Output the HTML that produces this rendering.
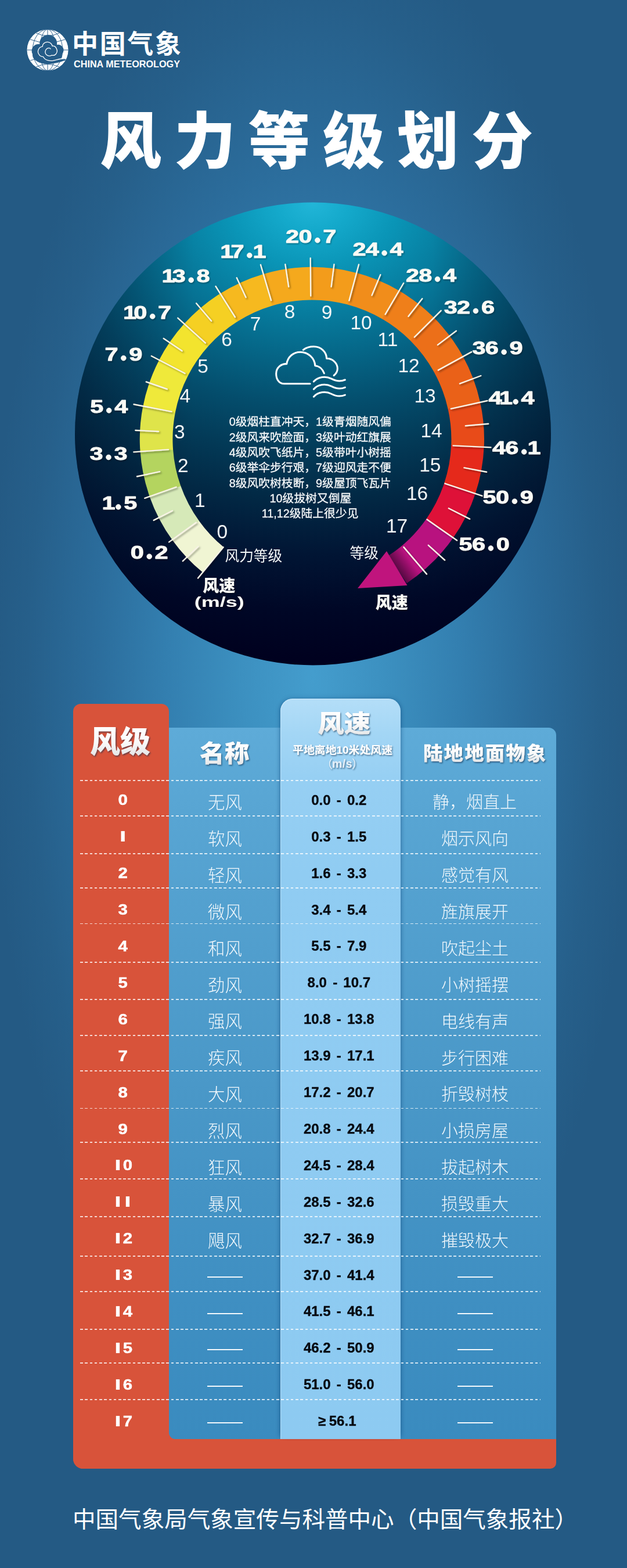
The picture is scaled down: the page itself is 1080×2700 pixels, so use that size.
<!DOCTYPE html>
<html lang="zh-CN">
<head>
<meta charset="utf-8">
<title>风力等级划分</title>
<style>
html,body{margin:0;padding:0;}
body{width:1080px;height:2700px;overflow:hidden;background:#245a84;font-family:"Liberation Sans","Noto Sans CJK SC",sans-serif;}
#page{position:relative;width:1080px;height:2700px;overflow:hidden;
 background:radial-gradient(ellipse 560px 1320px at 540px 1165px,#449dcd 0%,#3c90c0 22%,#337fb0 45%,#2b6c9b 68%,#265f8a 88%,#245a84 100%);}
svg{display:block}
svg text{font-family:"Liberation Sans","Noto Sans CJK SC",sans-serif;}
.abs{position:absolute}
#tbl{position:absolute;left:0;top:0;width:1080px;height:2700px}
#tbl .cj{position:absolute;overflow:visible}
.redcol{position:absolute;left:126px;top:1212px;width:165px;height:1317px;background:#d8533a;border-radius:13px 13px 0 17px}
.redbase{position:absolute;left:126px;top:2460px;width:832px;height:69px;background:#d8533a;border-radius:0 0 10px 17px}
.panel{position:absolute;left:291px;top:1253px;width:667px;height:1225px;border-radius:0 13px 0 11px;
 background:linear-gradient(to bottom,#5eabd8 0%,#58a5d3 12%,#4a98c8 50%,#3f8fc2 80%,#3a8bbf 100%)}
.spd{position:absolute;left:483.3px;top:1203px;width:207px;height:1275px;border-radius:21px 21px 0 0;
 background:linear-gradient(to bottom,#b4def8 0,#a3d6f5 60px,#96cff3 140px,#90ccf2 300px,#8dcaf1 100%);
 box-shadow:6px 0 7px -5px rgba(10,60,110,.38),-6px 0 7px -5px rgba(10,60,110,.38),0 -3px 8px -3px rgba(10,60,110,.3), inset 1px 1px 0 rgba(255,255,255,.35)}
.ln{position:absolute;left:138px;width:793px;height:1.9px;background:repeating-linear-gradient(to right,rgba(255,255,255,.76) 0,rgba(255,255,255,.76) 4.5px,transparent 4.5px,transparent 8.25px)}
.sp{position:absolute;left:483.8px;width:200px;height:40px;line-height:40px;text-align:center;color:#060910;font-weight:bold;font-size:24px;word-spacing:3.5px;-webkit-text-stroke:.35px #060910;white-space:nowrap}
.ge{margin-right:5.5px;margin-left:-6px}
.dash{position:absolute;width:61px;height:2px;background:#f2f8fc}

</style>
</head>
<body>
<div id="page">
<svg role="img" style="position:absolute;left:0px;top:0px;overflow:visible" width="360" height="150" viewBox="0 0 360 150"><title>中国气象 CHINA METEOROLOGY</title><g transform="translate(36 40) scale(0.08738)"><circle cx="527" cy="527" r="407" fill="#fff"/><g fill="none" stroke="#255c88" stroke-width="11"><path d="M527 120V935M120 527H935"/><ellipse cx="527" cy="527" rx="150" ry="407"/><ellipse cx="527" cy="527" rx="295" ry="407"/><path d="M185 320Q527 450 870 320M300 195Q527 300 755 195M185 735Q527 605 870 735M300 860Q527 755 755 860"/></g><g fill="#255c88"><circle cx="540" cy="400" r="172"/><circle cx="345" cy="545" r="132"/><circle cx="735" cy="530" r="108"/><ellipse cx="520" cy="625" rx="292" ry="178"/><path d="M560 805Q740 790 890 722L850 690Q700 740 600 720z"/></g><path fill="none" stroke="#fff" stroke-width="15" stroke-linecap="round" stroke-linejoin="round" d="M585 505C560 470 490 490 480 560C475 640 570 660 610 630C680 650 740 570 700 500C690 460 650 440 620 450C600 370 500 340 440 410C430 430 425 445 425 460C350 470 310 560 360 620C380 650 420 660 440 660C470 720 560 760 660 730C740 710 800 690 860 700"/></g><text x="124" y="92.2" font-size="45" font-weight="bold" fill="#fff" textLength="188" lengthAdjust="spacing">中国气象</text><text x="127" y="116" font-size="16.5" font-weight="bold" fill="#fff" textLength="183" lengthAdjust="spacingAndGlyphs">CHINA METEOROLOGY</text></svg><svg role="img" style="position:absolute;left:0px;top:0px;overflow:visible" width="1080" height="330" viewBox="0 0 1080 330"><title>风力等级划分</title><text x="172" y="281" font-size="106" font-weight="900" fill="#fff" textLength="746" lengthAdjust="spacing">风力等级划分</text></svg><svg role="img" style="position:absolute;left:0px;top:2570px;overflow:visible" width="1080" height="90" viewBox="0 0 1080 90"><title>中国气象局气象宣传与科普中心（中国气象报社）</title><text x="125" y="59.5" font-size="39" fill="#fff" textLength="870" lengthAdjust="spacingAndGlyphs">中国气象局气象宣传与科普中心（中国气象报社）</text></svg><svg role="img" style="position:absolute;left:0px;top:0px;overflow:visible" width="1080" height="1190" viewBox="0 0 1080 1190"><title>风力等级与风速对照表盘</title><defs>
<radialGradient id="dg" gradientUnits="userSpaceOnUse" cx="539" cy="349" r="797" gradientTransform="translate(539 0) scale(1.3 1) translate(-539 0)">
<stop offset="0" stop-color="#22b6d8"/><stop offset=".06" stop-color="#14a9cb"/><stop offset=".14" stop-color="#0a95b7"/>
<stop offset=".24" stop-color="#077c9e"/><stop offset=".34" stop-color="#056485"/><stop offset=".44" stop-color="#044d6c"/>
<stop offset=".54" stop-color="#033a57"/><stop offset=".64" stop-color="#022945"/><stop offset=".76" stop-color="#011534"/>
<stop offset=".88" stop-color="#000726"/><stop offset="1" stop-color="#00001e"/>
</radialGradient>
<linearGradient id="dv" x1="0" y1="0" x2="1" y2="0">
<stop offset="0" stop-color="#00081e" stop-opacity=".3"/><stop offset=".25" stop-color="#00081e" stop-opacity="0"/>
<stop offset=".75" stop-color="#00081e" stop-opacity="0"/><stop offset="1" stop-color="#00081e" stop-opacity=".3"/>
</linearGradient>
<linearGradient id="ah" gradientUnits="userSpaceOnUse" x1="705" y1="962" x2="683" y2="978">
<stop offset="0" stop-color="#3a0630" stop-opacity="0"/><stop offset="1" stop-color="#3a0630" stop-opacity=".75"/>
</linearGradient>
<filter id="ts" x="-20%" y="-20%" width="140%" height="140%"><feDropShadow dx="2.2" dy="2.2" stdDeviation="1.6" flood-color="#000" flood-opacity=".38"/></filter>
<filter id="ls" x="-10%" y="-10%" width="120%" height="130%"><feDropShadow dx="1.3" dy="1.8" stdDeviation="1.2" flood-color="#001" flood-opacity=".3"/></filter>
</defs><ellipse cx="539.0" cy="747.0" rx="410.0" ry="398.5" fill="url(#dg)"/><ellipse cx="539.0" cy="747.0" rx="410.0" ry="398.5" fill="url(#dv)"/><path d="M349.1 985.6A296.6 296.6 0 0 1 296.5 929.5L342.5 896.4A240.0 240.0 0 0 0 385.1 941.9z" fill="#f0f5d3"/><path d="M297.1 930.3A296.6 296.6 0 0 1 257.6 854.9L311.0 836.1A240.0 240.0 0 0 0 343.0 897.1z" fill="#d6e9b8"/><path d="M258.0 855.9A296.6 296.6 0 0 1 241.6 777.6L298.0 773.6A240.0 240.0 0 0 0 311.3 836.9z" fill="#b4d45f"/><path d="M241.6 778.6A296.6 296.6 0 0 1 246.3 699.3L301.9 710.2A240.0 240.0 0 0 0 298.1 774.4z" fill="#dfe44a"/><path d="M246.2 700.3A296.6 296.6 0 0 1 274.1 619.9L324.3 646.0A240.0 240.0 0 0 0 301.7 711.0z" fill="#efe93a"/><path d="M273.6 620.8A296.6 296.6 0 0 1 317.3 557.6L359.3 595.5A240.0 240.0 0 0 0 323.9 646.7z" fill="#f3e42e"/><path d="M316.6 558.3A296.6 296.6 0 0 1 379.3 505.4L409.5 553.3A240.0 240.0 0 0 0 358.8 596.1z" fill="#f5d023"/><path d="M378.5 506.0A296.6 296.6 0 0 1 453.7 471.9L469.6 526.2A240.0 240.0 0 0 0 408.8 553.8z" fill="#f6b91f"/><path d="M452.7 472.2A296.6 296.6 0 0 1 534.8 459.8L535.3 516.4A240.0 240.0 0 0 0 468.8 526.4z" fill="#f5a91d"/><path d="M533.8 459.8A296.6 296.6 0 0 1 614.2 469.9L599.5 524.6A240.0 240.0 0 0 0 534.5 516.4z" fill="#f39c1b"/><path d="M613.2 469.6A296.6 296.6 0 0 1 687.5 500.6L658.8 549.4A240.0 240.0 0 0 0 598.7 524.4z" fill="#f18d1b"/><path d="M686.6 500.1A296.6 296.6 0 0 1 747.5 547.0L707.4 587.0A240.0 240.0 0 0 0 658.1 549.0z" fill="#ef7f1a"/><path d="M746.8 546.3A296.6 296.6 0 0 1 797.6 614.0L747.9 641.1A240.0 240.0 0 0 0 706.8 586.4z" fill="#ec6f19"/><path d="M797.1 613.1A296.6 296.6 0 0 1 827.1 692.7L771.8 704.9A240.0 240.0 0 0 0 747.5 640.4z" fill="#ea6118"/><path d="M826.9 691.7A296.6 296.6 0 0 1 833.7 769.9L777.2 767.3A240.0 240.0 0 0 0 771.6 704.0z" fill="#e84b19"/><path d="M833.7 768.8A296.6 296.6 0 0 1 818.8 850.0L765.1 832.2A240.0 240.0 0 0 0 777.2 766.5z" fill="#e5291b"/><path d="M819.2 849.0A296.6 296.6 0 0 1 780.7 926.1L734.2 893.7A240.0 240.0 0 0 0 765.4 831.4z" fill="#de1138"/><path d="M781.2 925.2A296.6 296.6 0 0 1 700.7 1004.0L669.5 956.8A240.0 240.0 0 0 0 734.7 893.0z" fill="#b8127f"/><path d="M729.6 982.3A296.6 296.6 0 0 1 700.7 1004.0L669.5 956.8A240.0 240.0 0 0 0 692.9 939.2z" fill="url(#ah)"/><path d="M616 1013L666 949L701.5 1008z" fill="#c0147d"/><g stroke="#f8f3e6" stroke-width="2.4" stroke-linecap="round" filter="url(#ts)"><path d="M384.7 942.2L341.0 995.5"/><path d="M341.5 941.0L314.8 966.2"/><path d="M337.8 899.8L291.1 933.4"/><path d="M296.9 879.5L264.7 895.9"/><path d="M303.7 838.7L249.3 857.8"/><path d="M275.1 812.2L236.0 820.5"/><path d="M290.1 774.1L230.3 778.4"/><path d="M273.0 743.0L233.3 741.0"/><path d="M295.5 708.9L230.5 696.2"/><path d="M287.8 670.0L251.8 657.5"/><path d="M318.6 643.0L260.8 613.0"/><path d="M313.6 604.3L281.7 582.7"/><path d="M353.9 590.6L306.3 547.6"/><path d="M364.1 552.8L338.1 522.2"/><path d="M404.9 546.0L371.5 493.0"/><path d="M423.5 512.1L407.7 478.3"/><path d="M467.0 517.2L448.9 455.8"/><path d="M497.2 493.7L491.3 455.1"/><path d="M535.2 509.4L534.7 444.5"/><path d="M570.6 493.7L575.5 455.1"/><path d="M601.4 517.5L618.0 455.5"/><path d="M640.5 508.6L655.3 473.1"/><path d="M663.6 541.3L695.2 487.5"/><path d="M703.4 544.7L727.3 514.2"/><path d="M713.8 580.6L759.7 534.8"/><path d="M753.9 593.9L785.9 569.8"/><path d="M754.8 637.4L812.3 605.9"/><path d="M791.9 660.7L828.3 647.0"/><path d="M776.8 703.8L839.5 690.0"/><path d="M801.8 733.3L841.2 729.8"/><path d="M780.5 767.4L845.5 770.4"/><path d="M799.4 805.4L838.1 812.7"/><path d="M766.4 832.6L830.5 853.9"/><path d="M772.8 875.3L809.1 893.6"/><path d="M735.5 894.6L787.1 930.6"/><path d="M737.8 938.8L766.1 964.5"/><path d="M695.4 942.1L735.0 988.6"/></g><g fill="#fbfaf5" stroke="#fbfaf5" stroke-width=".9" stroke-linejoin="round" font-weight="bold" text-anchor="middle" filter="url(#ls)"><text transform="translate(236.2 962.3) scale(1.3 1)" font-size="31.9">0</text><circle cx="257.2" cy="958.2" r="4.3"/><text transform="translate(278.1 962.3) scale(1.3 1)" font-size="31.9">2</text><text transform="translate(186.9 877.0) scale(1.3 1)" font-size="31.9">1</text><circle cx="203.8" cy="872.9" r="4.3"/><text transform="translate(224.7 877.0) scale(1.3 1)" font-size="31.9">5</text><text transform="translate(166.1 791.5) scale(1.3 1)" font-size="31.9">3</text><circle cx="187.0" cy="787.4" r="4.3"/><text transform="translate(208.0 791.5) scale(1.3 1)" font-size="31.9">3</text><text transform="translate(166.8 710.9) scale(1.3 1)" font-size="31.9">5</text><circle cx="187.7" cy="706.8" r="4.3"/><text transform="translate(208.7 710.9) scale(1.3 1)" font-size="31.9">4</text><text transform="translate(191.9 620.7) scale(1.3 1)" font-size="31.9">7</text><circle cx="212.8" cy="616.6" r="4.3"/><text transform="translate(233.8 620.7) scale(1.3 1)" font-size="31.9">9</text><text transform="translate(223.6 548.9) scale(1.3 1)" font-size="31.9">1</text><text transform="translate(241.8 548.9) scale(1.3 1)" font-size="31.9">0</text><circle cx="262.7" cy="544.8" r="4.3"/><text transform="translate(283.6 548.9) scale(1.3 1)" font-size="31.9">7</text><text transform="translate(290.1 486.3) scale(1.3 1)" font-size="31.9">1</text><text transform="translate(308.2 486.3) scale(1.3 1)" font-size="31.9">3</text><circle cx="329.2" cy="482.2" r="4.3"/><text transform="translate(350.1 486.3) scale(1.3 1)" font-size="31.9">8</text><text transform="translate(390.7 443.8) scale(1.3 1)" font-size="31.9">1</text><text transform="translate(408.9 443.8) scale(1.3 1)" font-size="31.9">7</text><circle cx="429.8" cy="439.7" r="4.3"/><text transform="translate(447.0 443.8) scale(1.3 1)" font-size="31.9">1</text><text transform="translate(503.6 417.8) scale(1.3 1)" font-size="31.9">2</text><text transform="translate(525.9 417.8) scale(1.3 1)" font-size="31.9">0</text><circle cx="546.9" cy="413.7" r="4.3"/><text transform="translate(567.8 417.8) scale(1.3 1)" font-size="31.9">7</text><text transform="translate(618.9 439.8) scale(1.3 1)" font-size="31.9">2</text><text transform="translate(641.2 439.8) scale(1.3 1)" font-size="31.9">4</text><circle cx="662.1" cy="435.7" r="4.3"/><text transform="translate(683.1 439.8) scale(1.3 1)" font-size="31.9">4</text><text transform="translate(710.4 484.8) scale(1.3 1)" font-size="31.9">2</text><text transform="translate(732.7 484.8) scale(1.3 1)" font-size="31.9">8</text><circle cx="753.6" cy="480.7" r="4.3"/><text transform="translate(774.6 484.8) scale(1.3 1)" font-size="31.9">4</text><text transform="translate(776.2 539.5) scale(1.3 1)" font-size="31.9">3</text><text transform="translate(798.5 539.5) scale(1.3 1)" font-size="31.9">2</text><circle cx="819.4" cy="535.4" r="4.3"/><text transform="translate(840.4 539.5) scale(1.3 1)" font-size="31.9">6</text><text transform="translate(824.9 610.3) scale(1.3 1)" font-size="31.9">3</text><text transform="translate(847.2 610.3) scale(1.3 1)" font-size="31.9">6</text><circle cx="868.1" cy="606.2" r="4.3"/><text transform="translate(889.1 610.3) scale(1.3 1)" font-size="31.9">9</text><text transform="translate(852.9 695.9) scale(1.3 1)" font-size="31.9">4</text><text transform="translate(871.4 695.9) scale(1.3 1)" font-size="31.9">1</text><circle cx="888.2" cy="691.8" r="4.3"/><text transform="translate(909.1 695.9) scale(1.3 1)" font-size="31.9">4</text><text transform="translate(859.5 782.1) scale(1.3 1)" font-size="31.9">4</text><text transform="translate(881.8 782.1) scale(1.3 1)" font-size="31.9">6</text><circle cx="902.7" cy="778.0" r="4.3"/><text transform="translate(919.9 782.1) scale(1.3 1)" font-size="31.9">1</text><text transform="translate(843.1 867.3) scale(1.3 1)" font-size="31.9">5</text><text transform="translate(865.4 867.3) scale(1.3 1)" font-size="31.9">0</text><circle cx="886.4" cy="863.2" r="4.3"/><text transform="translate(907.3 867.3) scale(1.3 1)" font-size="31.9">9</text><text transform="translate(802.1 948.1) scale(1.3 1)" font-size="31.9">5</text><text transform="translate(824.4 948.1) scale(1.3 1)" font-size="31.9">6</text><circle cx="845.4" cy="944.0" r="4.3"/><text transform="translate(866.3 948.1) scale(1.3 1)" font-size="31.9">0</text></g><g fill="#f4f6f7" text-anchor="middle" font-size="32.5"><text transform="translate(382.8 926.9) scale(1.03 1)">0</text><text transform="translate(344.4 873.0) scale(1.03 1)">1</text><text transform="translate(315.3 813.2) scale(1.03 1)">2</text><text transform="translate(309.3 755.1) scale(1.03 1)">3</text><text transform="translate(318.7 692.6) scale(1.03 1)">4</text><text transform="translate(349.5 641.6) scale(1.03 1)">5</text><text transform="translate(390.5 596.2) scale(1.03 1)">6</text><text transform="translate(440.0 568.9) scale(1.03 1)">7</text><text transform="translate(499.0 547.6) scale(1.03 1)">8</text><text transform="translate(563.0 549.2) scale(1.03 1)">9</text><text transform="translate(622.0 567.2) scale(1.03 1)">10</text><text transform="translate(668.0 596.2) scale(1.03 1)">11</text><text transform="translate(704.0 640.6) scale(1.03 1)">12</text><text transform="translate(732.0 692.6) scale(1.03 1)">13</text><text transform="translate(743.0 753.4) scale(1.03 1)">14</text><text transform="translate(740.8 812.4) scale(1.03 1)">15</text><text transform="translate(718.6 861.1) scale(1.03 1)">16</text><text transform="translate(683.6 916.6) scale(1.03 1)">17</text></g><g transform="translate(380 590) scale(0.31068)" fill="none" stroke="#fff" stroke-width="9.8" stroke-linecap="round" stroke-linejoin="round"><path d="M496 228H352C322 228 308 200 308 172C308 138 336 116 366 118C372 78 404 52 442 52C486 52 522 86 524 128C548 130 566 148 574 170"/><path d="M458 40C474 28 496 22 516 22C556 22 586 50 588 88C620 88 648 112 648 144C648 160 640 172 628 182"/><path d="M516 216C540 188 584 184 614 200C640 214 666 216 690 206"/><path d="M516 258C540 230 584 226 614 242C640 256 666 258 690 248"/><path d="M516 300C540 272 584 268 614 284C640 298 666 300 690 290"/></g><g fill="#f8f9fa" stroke="#f8f9fa" stroke-width=".28" font-size="19.8"><text x="394.63" y="733.3">0级烟柱直冲天，1级青烟随风偏</text><text x="394.63" y="759.6">2级风来吹脸面，3级叶动红旗展</text><text x="394.63" y="785.9">4级风吹飞纸片，5级带叶小树摇</text><text x="394.63" y="812.2">6级举伞步行艰，7级迎风走不便</text><text x="394.63" y="838.5">8级风吹树枝断，9级屋顶飞瓦片</text><text x="464.56" y="864.8">10级拔树又倒屋</text><text x="450.7" y="891.1">11,12级陆上很少见</text></g><text x="387.44" y="966" font-size="24.7" fill="#f4f6f7">风力等级</text><text x="602.47" y="961" font-size="24.7" fill="#f4f6f7">等级</text><text x="349.35" y="1019" font-size="28" font-weight="900" fill="#fbfaf5" filter="url(#ls)">风速</text><text x="646.65" y="1047.5" font-size="28" font-weight="900" fill="#fbfaf5" filter="url(#ls)">风速</text><text transform="translate(377.7 1045) scale(1.5 1)" font-size="24" font-weight="bold" text-anchor="middle" fill="#fbfaf5" filter="url(#ls)">(m/s)</text></svg><div id="tbl"><div class="redcol"></div><div class="redbase"></div><div class="panel"></div><div class="spd"></div><svg width="0" height="0" style="position:absolute"><defs><linearGradient id="hgk" x1="0" y1="0" x2="0" y2="1"><stop offset="0" stop-color="#fff"/><stop offset=".5" stop-color="#fafafa"/><stop offset="1" stop-color="#dfe1e3"/></linearGradient><filter id="hs" x="-10%" y="-10%" width="125%" height="130%"><feDropShadow dx="1.4" dy="1.8" stdDeviation="1" flood-color="#0c2e4e" flood-opacity=".6"/></filter></defs></svg><svg role="img" class="cj" style="left:155.0px;top:1245.8px" width="104.0" height="62.4" viewBox="0 -49.92 104.0 62.4"><title>风级</title><g filter="url(#hs)"><text x="0" y="0" font-size="52" font-weight="900" fill="url(#hgk)">风级</text></g></svg><svg role="img" class="cj" style="left:344.4px;top:1273.4px" width="85.3" height="49.2" viewBox="0 -39.36 85.3 49.2"><title>名称</title><g filter="url(#hs)"><text x="0" y="0" font-size="41" font-weight="900" fill="url(#hgk)" textLength="85.3" lengthAdjust="spacingAndGlyphs">名称</text></g></svg><svg role="img" class="cj" style="left:546.8px;top:1220.8px" width="91.6" height="50.4" viewBox="0 -40.32 91.6 50.4"><title>风速</title><g filter="url(#hs)"><text x="0" y="0" font-size="42" font-weight="900" fill="url(#hgk)" textLength="91.6" lengthAdjust="spacingAndGlyphs">风速</text></g></svg><svg role="img" class="cj" style="left:503.7px;top:1281.1px" width="172.1" height="21.8" viewBox="0 -17.47 172.1 21.8"><title>平地离地10米处风速</title><g filter="url(#hs)"><text x="0" y="0" font-size="18.4" font-weight="bold" fill="#fff" textLength="172.1" lengthAdjust="spacingAndGlyphs">平地离地10米处风速</text></g></svg><svg role="img" class="cj" style="left:729.2px;top:1277.4px" width="211.5" height="40.2" viewBox="0 -32.16 211.5 40.2"><title>陆地地面物象</title><g filter="url(#hs)"><text x="0" y="0" font-size="33.5" font-weight="900" fill="url(#hgk)" letter-spacing="2.1">陆地地面物象</text></g></svg><svg role="img" class="cj" style="left:0;top:0" width="1080" height="1400" viewBox="0 0 1080 1400"><title>（m/s）</title><g filter="url(#hs)"><text x="553.5" y="1322.8" font-size="19.5" fill="#e6f0f8">（</text><text x="606" y="1322.8" font-size="19.5" fill="#e6f0f8">）</text><text x="589.5" y="1322.3" font-size="19.5" font-weight="bold" text-anchor="middle" fill="#e6f0f8" letter-spacing=".4">m/s</text></g></svg><div class="ln" style="top:1343.0px"></div><div class="ln" style="top:1404.0px"></div><div class="ln" style="top:1468.7px"></div><div class="ln" style="top:1527.9px"></div><div class="ln" style="top:1589.6px"></div><div class="ln" style="top:1655.9px"></div><div class="ln" style="top:1720.4px"></div><div class="ln" style="top:1781.8px"></div><div class="ln" style="top:1842.7px"></div><div class="ln" style="top:1907.5px"></div><div class="ln" style="top:1965.9px"></div><div class="ln" style="top:2029.1px"></div><div class="ln" style="top:2093.7px"></div><div class="ln" style="top:2162.3px"></div><div class="ln" style="top:2223.4px"></div><div class="ln" style="top:2288.1px"></div><div class="ln" style="top:2346.4px"></div><div class="ln" style="top:2409.4px"></div><svg role="img" class="cj" style="left:0;top:1357.4px" width="300" height="40" viewBox="0 0 300 40"><title>0</title><g fill="#fff"><text transform="translate(211.7 28.8) scale(1.16 1)" font-size="25.3" font-weight="bold" text-anchor="middle" stroke="#fff" stroke-width=".5">0</text></g></svg><div class="sp" style="top:1357.8px">0.0 - 0.2</div><svg role="img" class="cj" style="left:357.8px;top:1364.0px" width="58.8" height="35.3" viewBox="0 -28.22 58.8 35.3"><title>无风</title><text x="0" y="0" font-size="29.4" font-weight="300" fill="#f2f8fc">无风</text></svg><svg role="img" class="cj" style="left:745.0px;top:1364.2px" width="145.0" height="34.8" viewBox="0 -27.84 145.0 34.8"><title>静，烟直上</title><text x="0" y="0" font-size="29" font-weight="300" fill="#f2f8fc">静，烟直上</text></svg><svg role="img" class="cj" style="left:0;top:1420.3px" width="300" height="40" viewBox="0 0 300 40"><title>1</title><g fill="#fff"><rect x="208.5" y="11.1" width="6.3" height="17.9"/></g></svg><div class="sp" style="top:1420.7px">0.3 - 1.5</div><svg role="img" class="cj" style="left:357.8px;top:1426.9px" width="58.8" height="35.3" viewBox="0 -28.22 58.8 35.3"><title>软风</title><text x="0" y="0" font-size="29.4" font-weight="300" fill="#f2f8fc">软风</text></svg><svg role="img" class="cj" style="left:759.5px;top:1427.1px" width="116.0" height="34.8" viewBox="0 -27.84 116.0 34.8"><title>烟示风向</title><text x="0" y="0" font-size="29" font-weight="300" fill="#f2f8fc">烟示风向</text></svg><svg role="img" class="cj" style="left:0;top:1483.2px" width="300" height="40" viewBox="0 0 300 40"><title>2</title><g fill="#fff"><text transform="translate(211.7 28.8) scale(1.16 1)" font-size="25.3" font-weight="bold" text-anchor="middle" stroke="#fff" stroke-width=".5">2</text></g></svg><div class="sp" style="top:1483.6px">1.6 - 3.3</div><svg role="img" class="cj" style="left:357.8px;top:1489.8px" width="58.8" height="35.3" viewBox="0 -28.22 58.8 35.3"><title>轻风</title><text x="0" y="0" font-size="29.4" font-weight="300" fill="#f2f8fc">轻风</text></svg><svg role="img" class="cj" style="left:759.5px;top:1490.0px" width="116.0" height="34.8" viewBox="0 -27.84 116.0 34.8"><title>感觉有风</title><text x="0" y="0" font-size="29" font-weight="300" fill="#f2f8fc">感觉有风</text></svg><svg role="img" class="cj" style="left:0;top:1546.1px" width="300" height="40" viewBox="0 0 300 40"><title>3</title><g fill="#fff"><text transform="translate(211.7 28.8) scale(1.16 1)" font-size="25.3" font-weight="bold" text-anchor="middle" stroke="#fff" stroke-width=".5">3</text></g></svg><div class="sp" style="top:1546.5px">3.4 - 5.4</div><svg role="img" class="cj" style="left:357.8px;top:1552.7px" width="58.8" height="35.3" viewBox="0 -28.22 58.8 35.3"><title>微风</title><text x="0" y="0" font-size="29.4" font-weight="300" fill="#f2f8fc">微风</text></svg><svg role="img" class="cj" style="left:759.5px;top:1552.9px" width="116.0" height="34.8" viewBox="0 -27.84 116.0 34.8"><title>旌旗展开</title><text x="0" y="0" font-size="29" font-weight="300" fill="#f2f8fc">旌旗展开</text></svg><svg role="img" class="cj" style="left:0;top:1609.0px" width="300" height="40" viewBox="0 0 300 40"><title>4</title><g fill="#fff"><text transform="translate(211.7 28.8) scale(1.16 1)" font-size="25.3" font-weight="bold" text-anchor="middle" stroke="#fff" stroke-width=".5">4</text></g></svg><div class="sp" style="top:1609.4px">5.5 - 7.9</div><svg role="img" class="cj" style="left:357.8px;top:1615.6px" width="58.8" height="35.3" viewBox="0 -28.22 58.8 35.3"><title>和风</title><text x="0" y="0" font-size="29.4" font-weight="300" fill="#f2f8fc">和风</text></svg><svg role="img" class="cj" style="left:759.5px;top:1615.8px" width="116.0" height="34.8" viewBox="0 -27.84 116.0 34.8"><title>吹起尘土</title><text x="0" y="0" font-size="29" font-weight="300" fill="#f2f8fc">吹起尘土</text></svg><svg role="img" class="cj" style="left:0;top:1671.9px" width="300" height="40" viewBox="0 0 300 40"><title>5</title><g fill="#fff"><text transform="translate(211.7 28.8) scale(1.16 1)" font-size="25.3" font-weight="bold" text-anchor="middle" stroke="#fff" stroke-width=".5">5</text></g></svg><div class="sp" style="top:1672.3px">8.0 - 10.7</div><svg role="img" class="cj" style="left:357.8px;top:1678.5px" width="58.8" height="35.3" viewBox="0 -28.22 58.8 35.3"><title>劲风</title><text x="0" y="0" font-size="29.4" font-weight="300" fill="#f2f8fc">劲风</text></svg><svg role="img" class="cj" style="left:759.5px;top:1678.7px" width="116.0" height="34.8" viewBox="0 -27.84 116.0 34.8"><title>小树摇摆</title><text x="0" y="0" font-size="29" font-weight="300" fill="#f2f8fc">小树摇摆</text></svg><svg role="img" class="cj" style="left:0;top:1734.8px" width="300" height="40" viewBox="0 0 300 40"><title>6</title><g fill="#fff"><text transform="translate(211.7 28.8) scale(1.16 1)" font-size="25.3" font-weight="bold" text-anchor="middle" stroke="#fff" stroke-width=".5">6</text></g></svg><div class="sp" style="top:1735.2px">10.8 - 13.8</div><svg role="img" class="cj" style="left:357.8px;top:1741.4px" width="58.8" height="35.3" viewBox="0 -28.22 58.8 35.3"><title>强风</title><text x="0" y="0" font-size="29.4" font-weight="300" fill="#f2f8fc">强风</text></svg><svg role="img" class="cj" style="left:759.5px;top:1741.6px" width="116.0" height="34.8" viewBox="0 -27.84 116.0 34.8"><title>电线有声</title><text x="0" y="0" font-size="29" font-weight="300" fill="#f2f8fc">电线有声</text></svg><svg role="img" class="cj" style="left:0;top:1797.7px" width="300" height="40" viewBox="0 0 300 40"><title>7</title><g fill="#fff"><text transform="translate(211.7 28.8) scale(1.16 1)" font-size="25.3" font-weight="bold" text-anchor="middle" stroke="#fff" stroke-width=".5">7</text></g></svg><div class="sp" style="top:1798.1px">13.9 - 17.1</div><svg role="img" class="cj" style="left:357.8px;top:1804.3px" width="58.8" height="35.3" viewBox="0 -28.22 58.8 35.3"><title>疾风</title><text x="0" y="0" font-size="29.4" font-weight="300" fill="#f2f8fc">疾风</text></svg><svg role="img" class="cj" style="left:759.5px;top:1804.5px" width="116.0" height="34.8" viewBox="0 -27.84 116.0 34.8"><title>步行困难</title><text x="0" y="0" font-size="29" font-weight="300" fill="#f2f8fc">步行困难</text></svg><svg role="img" class="cj" style="left:0;top:1860.6px" width="300" height="40" viewBox="0 0 300 40"><title>8</title><g fill="#fff"><text transform="translate(211.7 28.8) scale(1.16 1)" font-size="25.3" font-weight="bold" text-anchor="middle" stroke="#fff" stroke-width=".5">8</text></g></svg><div class="sp" style="top:1861.0px">17.2 - 20.7</div><svg role="img" class="cj" style="left:357.8px;top:1867.2px" width="58.8" height="35.3" viewBox="0 -28.22 58.8 35.3"><title>大风</title><text x="0" y="0" font-size="29.4" font-weight="300" fill="#f2f8fc">大风</text></svg><svg role="img" class="cj" style="left:759.5px;top:1867.4px" width="116.0" height="34.8" viewBox="0 -27.84 116.0 34.8"><title>折毁树枝</title><text x="0" y="0" font-size="29" font-weight="300" fill="#f2f8fc">折毁树枝</text></svg><svg role="img" class="cj" style="left:0;top:1923.5px" width="300" height="40" viewBox="0 0 300 40"><title>9</title><g fill="#fff"><text transform="translate(211.7 28.8) scale(1.16 1)" font-size="25.3" font-weight="bold" text-anchor="middle" stroke="#fff" stroke-width=".5">9</text></g></svg><div class="sp" style="top:1923.9px">20.8 - 24.4</div><svg role="img" class="cj" style="left:357.8px;top:1930.1px" width="58.8" height="35.3" viewBox="0 -28.22 58.8 35.3"><title>烈风</title><text x="0" y="0" font-size="29.4" font-weight="300" fill="#f2f8fc">烈风</text></svg><svg role="img" class="cj" style="left:759.5px;top:1930.3px" width="116.0" height="34.8" viewBox="0 -27.84 116.0 34.8"><title>小损房屋</title><text x="0" y="0" font-size="29" font-weight="300" fill="#f2f8fc">小损房屋</text></svg><svg role="img" class="cj" style="left:0;top:1986.4px" width="300" height="40" viewBox="0 0 300 40"><title>10</title><g fill="#fff"><rect x="199.8" y="11.1" width="6.3" height="17.9"/><text transform="translate(220.0 28.8) scale(1.16 1)" font-size="25.3" font-weight="bold" text-anchor="middle" stroke="#fff" stroke-width=".5">0</text></g></svg><div class="sp" style="top:1986.8px">24.5 - 28.4</div><svg role="img" class="cj" style="left:357.8px;top:1993.0px" width="58.8" height="35.3" viewBox="0 -28.22 58.8 35.3"><title>狂风</title><text x="0" y="0" font-size="29.4" font-weight="300" fill="#f2f8fc">狂风</text></svg><svg role="img" class="cj" style="left:759.5px;top:1993.2px" width="116.0" height="34.8" viewBox="0 -27.84 116.0 34.8"><title>拔起树木</title><text x="0" y="0" font-size="29" font-weight="300" fill="#f2f8fc">拔起树木</text></svg><svg role="img" class="cj" style="left:0;top:2049.3px" width="300" height="40" viewBox="0 0 300 40"><title>11</title><g fill="#fff"><rect x="199.8" y="11.1" width="6.3" height="17.9"/><rect x="216.8" y="11.1" width="6.3" height="17.9"/></g></svg><div class="sp" style="top:2049.7px">28.5 - 32.6</div><svg role="img" class="cj" style="left:357.8px;top:2055.9px" width="58.8" height="35.3" viewBox="0 -28.22 58.8 35.3"><title>暴风</title><text x="0" y="0" font-size="29.4" font-weight="300" fill="#f2f8fc">暴风</text></svg><svg role="img" class="cj" style="left:759.5px;top:2056.1px" width="116.0" height="34.8" viewBox="0 -27.84 116.0 34.8"><title>损毁重大</title><text x="0" y="0" font-size="29" font-weight="300" fill="#f2f8fc">损毁重大</text></svg><svg role="img" class="cj" style="left:0;top:2112.2px" width="300" height="40" viewBox="0 0 300 40"><title>12</title><g fill="#fff"><rect x="199.8" y="11.1" width="6.3" height="17.9"/><text transform="translate(220.0 28.8) scale(1.16 1)" font-size="25.3" font-weight="bold" text-anchor="middle" stroke="#fff" stroke-width=".5">2</text></g></svg><div class="sp" style="top:2112.6px">32.7 - 36.9</div><svg role="img" class="cj" style="left:357.8px;top:2118.8px" width="58.8" height="35.3" viewBox="0 -28.22 58.8 35.3"><title>飓风</title><text x="0" y="0" font-size="29.4" font-weight="300" fill="#f2f8fc">飓风</text></svg><svg role="img" class="cj" style="left:759.5px;top:2119.0px" width="116.0" height="34.8" viewBox="0 -27.84 116.0 34.8"><title>摧毁极大</title><text x="0" y="0" font-size="29" font-weight="300" fill="#f2f8fc">摧毁极大</text></svg><svg role="img" class="cj" style="left:0;top:2175.1px" width="300" height="40" viewBox="0 0 300 40"><title>13</title><g fill="#fff"><rect x="199.8" y="11.1" width="6.3" height="17.9"/><text transform="translate(220.0 28.8) scale(1.16 1)" font-size="25.3" font-weight="bold" text-anchor="middle" stroke="#fff" stroke-width=".5">3</text></g></svg><div class="sp" style="top:2175.5px">37.0 - 41.4</div><div class="dash" style="left:357px;top:2197.6px"></div><div class="dash" style="left:787.5px;top:2197.6px"></div><svg role="img" class="cj" style="left:0;top:2238.0px" width="300" height="40" viewBox="0 0 300 40"><title>14</title><g fill="#fff"><rect x="199.8" y="11.1" width="6.3" height="17.9"/><text transform="translate(220.0 28.8) scale(1.16 1)" font-size="25.3" font-weight="bold" text-anchor="middle" stroke="#fff" stroke-width=".5">4</text></g></svg><div class="sp" style="top:2238.4px">41.5 - 46.1</div><div class="dash" style="left:357px;top:2260.5px"></div><div class="dash" style="left:787.5px;top:2260.5px"></div><svg role="img" class="cj" style="left:0;top:2300.9px" width="300" height="40" viewBox="0 0 300 40"><title>15</title><g fill="#fff"><rect x="199.8" y="11.1" width="6.3" height="17.9"/><text transform="translate(220.0 28.8) scale(1.16 1)" font-size="25.3" font-weight="bold" text-anchor="middle" stroke="#fff" stroke-width=".5">5</text></g></svg><div class="sp" style="top:2301.3px">46.2 - 50.9</div><div class="dash" style="left:357px;top:2323.4px"></div><div class="dash" style="left:787.5px;top:2323.4px"></div><svg role="img" class="cj" style="left:0;top:2363.8px" width="300" height="40" viewBox="0 0 300 40"><title>16</title><g fill="#fff"><rect x="199.8" y="11.1" width="6.3" height="17.9"/><text transform="translate(220.0 28.8) scale(1.16 1)" font-size="25.3" font-weight="bold" text-anchor="middle" stroke="#fff" stroke-width=".5">6</text></g></svg><div class="sp" style="top:2364.2px">51.0 - 56.0</div><div class="dash" style="left:357px;top:2386.3px"></div><div class="dash" style="left:787.5px;top:2386.3px"></div><svg role="img" class="cj" style="left:0;top:2426.7px" width="300" height="40" viewBox="0 0 300 40"><title>17</title><g fill="#fff"><rect x="199.8" y="11.1" width="6.3" height="17.9"/><text transform="translate(220.0 28.8) scale(1.16 1)" font-size="25.3" font-weight="bold" text-anchor="middle" stroke="#fff" stroke-width=".5">7</text></g></svg><div class="sp" style="top:2427.1px"><span class="ge">≥</span>56.1</div><div class="dash" style="left:357px;top:2449.2px"></div><div class="dash" style="left:787.5px;top:2449.2px"></div></div>
</div>
</body>
</html>
